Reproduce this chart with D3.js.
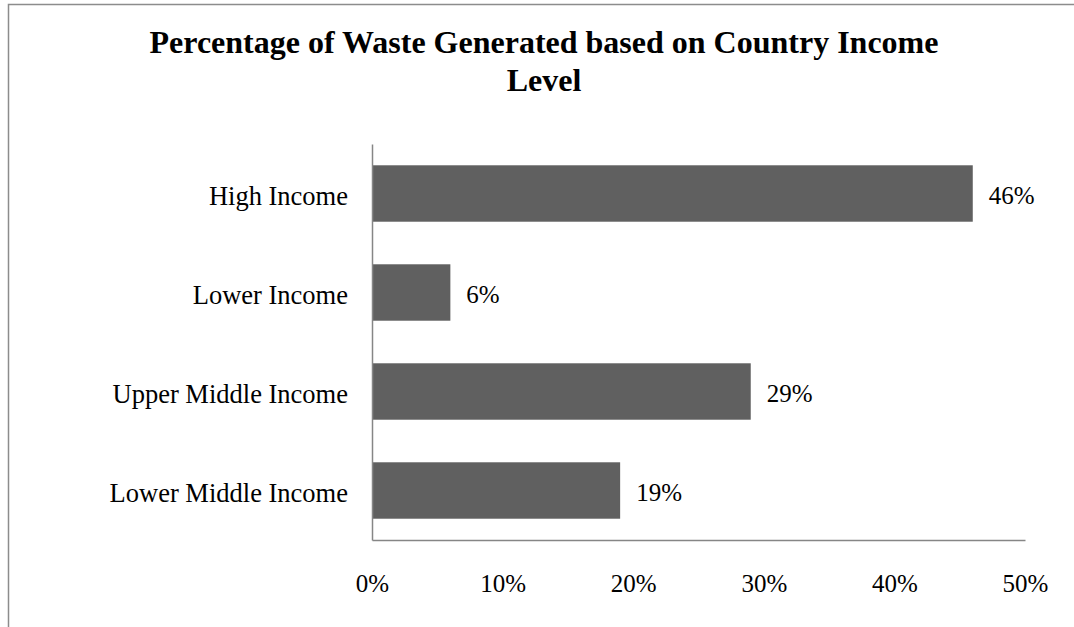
<!DOCTYPE html>
<html>
<head>
<meta charset="utf-8">
<script src="https://d3js.org/d3.v7.min.js"></script>
<style>
  body { margin: 0; background: #fff; }
</style>
</head>
<body>
<div id="chart"></div>
<script>
// data
var categories = ["High Income", "Lower Income", "Upper Middle Income", "Lower Middle Income"];
var values = [46, 6, 29, 19];
var ticks = [0, 10, 20, 30, 40, 50];
var titleLines = ["Percentage of Waste Generated based on Country Income", "Level"];

var serif = "'Liberation Serif', 'Times New Roman', 'DejaVu Serif', serif";

var W = 1074, H = 627;
var margin = {top: 144, right: 49, bottom: 87, left: 372},
    width = W - margin.left - margin.right,
    height = H - margin.top - margin.bottom;

var svg = d3.select("#chart")
  .append("svg")
    .attr("width", W)
    .attr("height", H)
    .style("font-family", serif);

// outer frame (cropped on the right and bottom)
svg.append("path")
  .attr("d", "M8.5," + H + "V4.5H" + W)
  .attr("fill", "none")
  .attr("stroke", "#8c8c8c")
  .attr("stroke-width", 1.5);

// title
svg.append("text")
  .attr("text-anchor", "middle")
  .style("font-family", serif)
  .style("font-weight", "bold")
  .style("font-size", "32px")
  .selectAll("tspan")
  .data(titleLines)
  .enter().append("tspan")
    .attr("x", 544)
    .attr("y", function(d, i) { return 53 + i * 38; })
    .text(function(d) { return d; });

var g = svg.append("g")
  .attr("transform", "translate(" + margin.left + "," + margin.top + ")");

var x = d3.scaleLinear()
  .domain([0, 50])
  .range([0, width]);

var y = d3.scaleBand()
  .domain(categories)
  .range([0, height])
  .paddingInner(0.43)
  .paddingOuter(0.215);

// bars
g.selectAll(".bar")
  .data(values)
  .enter().append("rect")
    .attr("class", "bar")
    .attr("x", 0)
    .attr("y", function(d, i) { return y(categories[i]); })
    .attr("width", function(d) { return x(d); })
    .attr("height", y.bandwidth())
    .attr("fill", "#606060");

// value labels
g.selectAll(".lbl")
  .data(values)
  .enter().append("text")
    .attr("class", "lbl")
    .attr("x", function(d) { return x(d) + 16; })
    .attr("y", function(d, i) { return y(categories[i]) + y.bandwidth() / 2; })
    .attr("dy", "0.4em")
    .style("font-family", serif)
    .style("font-size", "25px")
    .attr("fill", "#000")
    .text(function(d) { return d + "%"; });

// x axis
var xAxis = g.append("g")
  .attr("transform", "translate(0," + height + ")")
  .call(d3.axisBottom(x).tickValues(ticks).tickSize(0).tickPadding(0)
    .tickFormat(function(d) { return d + "%"; }));
xAxis.select(".domain").attr("stroke", "#868686").attr("stroke-width", 1.5);
xAxis.selectAll("text")
  .style("font-family", serif)
  .style("font-size", "25px")
  .attr("fill", "#000")
  .attr("dy", null)
  .attr("y", 52);

// y axis
var yAxis = g.append("g")
  .call(d3.axisLeft(y).tickSize(0).tickPadding(24));
yAxis.select(".domain").attr("stroke", "#868686").attr("stroke-width", 1.5);
yAxis.selectAll("text")
  .style("font-family", serif)
  .style("font-size", "26.5px")
  .attr("fill", "#000")
  .attr("dy", "0.45em");
</script>
</body>
</html>
